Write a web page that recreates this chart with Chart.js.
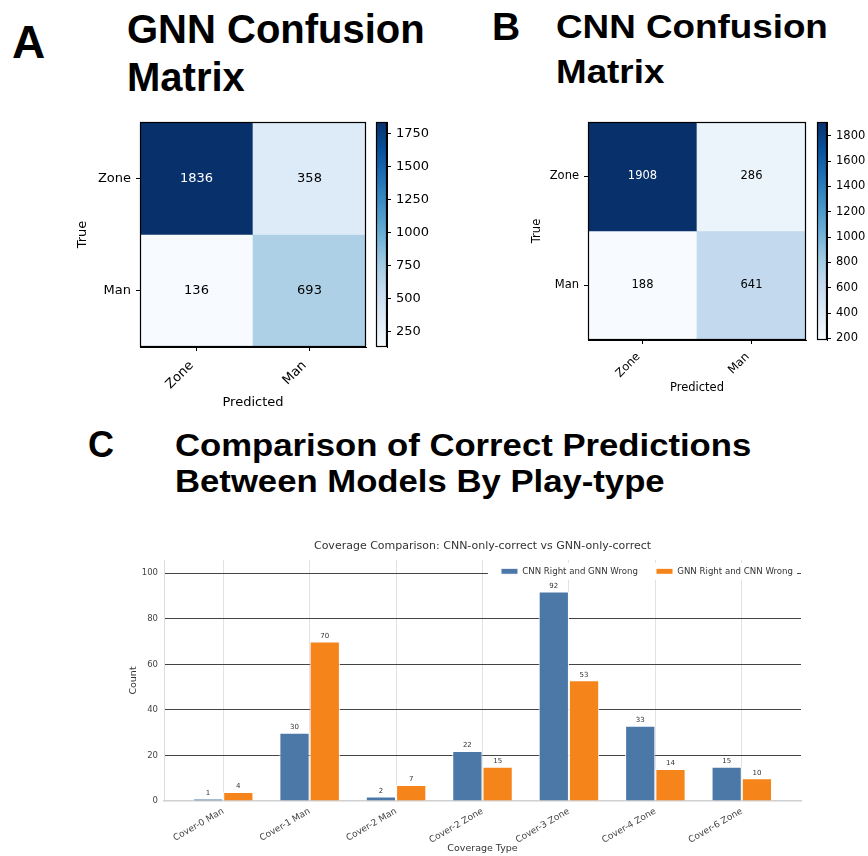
<!DOCTYPE html>
<html>
<head>
<meta charset="utf-8">
<script src="https://cdn.jsdelivr.net/npm/chart.js@4.4.1/dist/chart.umd.min.js"></script>
<style>
  html, body { margin: 0; padding: 0; background: #fff; }
  body { width: 868px; height: 856px; position: relative; overflow: hidden; }
  canvas { position: absolute; }
  .big { position: absolute; font-family: 'Liberation Sans', Arial, sans-serif; font-weight: bold; color: #000; white-space: nowrap; }
</style>
</head>
<body>
<div class="big" style="left:12px;top:19px;font-size:46px;line-height:46px;">A</div>
<div class="big" style="left:127px;top:5px;font-size:40px;line-height:48px;">GNN Confusion<br>Matrix</div>
<div class="big" style="left:492px;top:7px;font-size:39px;line-height:39px;">B</div>
<div class="big" style="left:556px;top:5px;font-size:36.8px;line-height:50px;transform-origin:0 0;transform:scaleY(0.9);">CNN Confusion<br>Matrix</div>
<div class="big" style="left:88px;top:427px;font-size:36px;line-height:36px;">C</div>
<div class="big" style="left:175px;top:427px;font-size:34.7px;line-height:38.7px;transform-origin:0 0;transform:scaleY(0.93);">Comparison of Correct Predictions<br>Between Models By Play-type</div>

<canvas id="gnnMatrix" width="340" height="320" style="left:40px;top:100px;"></canvas>
<canvas id="gnnBar" width="80" height="270" style="left:370px;top:100px;"></canvas>
<canvas id="cnnMatrix" width="340" height="310" style="left:480px;top:100px;"></canvas>
<canvas id="cnnBar" width="58" height="270" style="left:810px;top:100px;"></canvas>
<canvas id="coverage" width="778" height="331" style="left:90px;top:525px;"></canvas>

<script>
// ---- data ----
const matrixLabels = ['Zone', 'Man'];
const gnnMatrix = [[1836, 358], [136, 693]];
const cnnMatrix = [[1908, 286], [188, 641]];
const gnnColorTicks = [250, 500, 750, 1000, 1250, 1500, 1750];
const cnnColorTicks = [200, 400, 600, 800, 1000, 1200, 1400, 1600, 1800];

const coverageTypes = ['Cover-0 Man', 'Cover-1 Man', 'Cover-2 Man', 'Cover-2 Zone', 'Cover-3 Zone', 'Cover-4 Zone', 'Cover-6 Zone'];
const cnnRightGnnWrong = [1, 30, 2, 22, 92, 33, 15];
const gnnRightCnnWrong = [4, 70, 7, 15, 53, 14, 10];
const countTicks = [0, 20, 40, 60, 80, 100];

// ---- shared helpers ----
Chart.defaults.font.family = "'DejaVu Sans', sans-serif";
Chart.defaults.animation = false;
Chart.defaults.responsive = false;
Chart.defaults.devicePixelRatio = 1;
Chart.defaults.plugins.tooltip.enabled = false;

const BLUES = ['#f7fbff', '#deebf7', '#c6dbef', '#9ecae1', '#6baed6', '#4292c6', '#2171b5', '#08519c', '#08306b'];
function hexToRgb(h) { return [1, 3, 5].map(k => parseInt(h.slice(k, k + 2), 16)); }
function blues(t) {
  t = Math.max(0, Math.min(1, t));
  const p = t * (BLUES.length - 1);
  const k = Math.min(Math.floor(p), BLUES.length - 2);
  const f = p - k;
  const a = hexToRgb(BLUES[k]), b = hexToRgb(BLUES[k + 1]);
  const c = a.map((v, n) => Math.round(v + (b[n] - v) * f));
  return `rgb(${c[0]},${c[1]},${c[2]})`;
}
const plainNumber = v => String(v);

const framePlugin = {
  id: 'frame',
  afterDraw(chart) {
    const a = chart.chartArea, ctx = chart.ctx;
    ctx.save();
    ctx.strokeStyle = '#000';
    ctx.lineWidth = 1.2;
    ctx.strokeRect(Math.round(a.left) + 0.5, Math.round(a.top) + 0.5, Math.round(a.right - a.left) - 1, Math.round(a.bottom - a.top) - 1);
    ctx.restore();
  }
};

function confusionMatrix(id, matrix, cfg) {
  const flat = matrix.flat();
  const vmin = Math.min(...flat), vmax = Math.max(...flat);
  const thresh = (vmin + vmax) / 2;
  const font = { size: cfg.fontSize };
  const cellText = {
    id: 'cellText',
    afterDatasetsDraw(chart) {
      const ctx = chart.ctx;
      ctx.save();
      ctx.font = `${cfg.fontSize}px 'DejaVu Sans'`;
      ctx.textAlign = 'center';
      ctx.textBaseline = 'middle';
      matrix.forEach((row, i) => {
        chart.getDatasetMeta(i).data.forEach((bar, j) => {
          const v = row[j];
          ctx.fillStyle = v > thresh ? '#fff' : '#000';
          ctx.fillText(String(v), bar.x, (bar.y + bar.base) / 2);
        });
      });
      ctx.restore();
    }
  };
  new Chart(document.getElementById(id), {
    type: 'bar',
    data: {
      labels: matrixLabels,
      datasets: matrix.map((row, i) => ({
        label: matrixLabels[i],
        data: row.map(() => 1),
        backgroundColor: row.map(v => blues((v - vmin) / (vmax - vmin))),
        borderWidth: 0,
        barPercentage: 1,
        categoryPercentage: 1
      }))
    },
    options: {
      layout: { padding: { left: 0, top: 22, right: 14, bottom: 0 } },
      plugins: { legend: { display: false } },
      scales: {
        x: {
          stacked: true,
          offset: true,
          grid: { offset: false, drawOnChartArea: false, color: '#000', tickLength: 4 },
          border: { color: '#000' },
          ticks: { font, color: '#000', minRotation: 45, maxRotation: 45, padding: cfg.xTickPad, labelOffset: cfg.xTickShift },
          title: { display: true, text: 'Predicted', font, color: '#000', padding: { top: 0, bottom: cfg.xTitlePad } },
          afterFit: s => { s.height = cfg.xAxisHeight; }
        },
        y: {
          stacked: true,
          reverse: true,
          min: 0,
          max: matrixLabels.length,
          afterBuildTicks: s => { s.ticks = matrixLabels.map((_, i) => ({ value: i + 0.5 })); },
          grid: { drawOnChartArea: false, color: '#000', tickLength: 4 },
          border: { color: '#000' },
          ticks: { font, color: '#000', padding: 5, callback: (v, i) => matrixLabels[i] },
          title: { display: true, text: 'True', font, color: '#000', padding: { top: cfg.yTitlePad, bottom: 0 } },
          afterFit: s => { s.width = cfg.yAxisWidth; }
        }
      }
    },
    plugins: [cellText, framePlugin]
  });

  new Chart(document.getElementById(cfg.barId), {
    type: 'bar',
    data: {
      labels: [''],
      datasets: [{
        data: [[vmin, vmax]],
        barPercentage: 1,
        categoryPercentage: 1,
        borderWidth: 0,
        backgroundColor: c => {
          const ch = c.chart;
          if (!ch.chartArea) return BLUES[0];
          const y = ch.scales.y;
          const g = ch.ctx.createLinearGradient(0, y.getPixelForValue(vmin), 0, y.getPixelForValue(vmax));
          for (let k = 0; k <= 40; k++) g.addColorStop(k / 40, blues(k / 40));
          return g;
        }
      }]
    },
    options: {
      layout: { padding: cfg.barPadding },
      plugins: { legend: { display: false } },
      scales: {
        x: { display: false },
        y: {
          position: 'right',
          min: vmin,
          max: vmax,
          afterBuildTicks: s => { s.ticks = cfg.ticks.map(v => ({ value: v })); },
          grid: { drawOnChartArea: false, color: '#000', tickLength: 4 },
          border: { color: '#000' },
          ticks: { font, color: '#000', padding: 5, callback: plainNumber },
          afterFit: s => { s.width = cfg.barAxisWidth; }
        }
      }
    },
    plugins: [framePlugin]
  });
}

confusionMatrix('gnnMatrix', gnnMatrix, {
  fontSize: 13, xAxisHeight: 73, yAxisWidth: 100, xTitlePad: 10, yTitlePad: 35, xTickPad: 7, xTickShift: -5,
  barId: 'gnnBar', ticks: gnnColorTicks, barPadding: { left: 6, top: 22, right: 0, bottom: 23 }, barAxisWidth: 63
});
confusionMatrix('cnnMatrix', cnnMatrix, {
  fontSize: 11.5, xAxisHeight: 70, yAxisWidth: 108, xTitlePad: 15, yTitlePad: 50, xTickPad: 6, xTickShift: -4,
  barId: 'cnnBar', ticks: cnnColorTicks, barPadding: { left: 7, top: 22, right: 0, bottom: 30 }, barAxisWidth: 41
});

// ---- coverage comparison bars ----
// legend sits inside the plot, one row, upper right, on a white patch
const LEG_DX = 10, LEG_DY = 11;
const valueLabels = {
  id: 'valueLabels',
  afterDatasetsDraw(chart) {
    const ctx = chart.ctx;
    ctx.save();
    ctx.font = "7px 'DejaVu Sans'";
    ctx.fillStyle = '#333';
    ctx.textAlign = 'center';
    ctx.textBaseline = 'bottom';
    chart.data.datasets.forEach((ds, i) => {
      chart.getDatasetMeta(i).data.forEach((bar, j) => {
        ctx.fillText(String(ds.data[j].y), bar.x, bar.y - 2);
      });
    });
    ctx.restore();
  }
};
const legendBox = {
  id: 'legendBox',
  beforeLayout(chart) {
    if (chart.legend) chart.legend.isHorizontal = () => true;
  },
  afterLayout(chart) {
    const lg = chart.legend, a = chart.chartArea;
    lg.left = a.left + LEG_DX; lg.right = a.right + LEG_DX;
    lg.top = a.top - LEG_DY; lg.bottom = lg.top + lg.height;
  },
  beforeDatasetsDraw(chart) {
    const lg = chart.legend, hb = lg.legendHitBoxes;
    if (!hb || !hb.length) return;
    const first = hb[0], last = hb[hb.length - 1];
    const ctx = chart.ctx;
    ctx.save();
    ctx.fillStyle = '#fff';
    const x0 = first.left - 13, x1 = last.left + last.width + 4;
    const y0 = first.top - 4, y1 = first.top + first.height + 4;
    ctx.fillRect(x0, y0, x1 - x0, y1 - y0);
    ctx.restore();
    lg.draw();
  }
};

const yTop = Math.max(...cnnRightGnnWrong, ...gnnRightCnnWrong) * 1.15;

new Chart(document.getElementById('coverage'), {
  type: 'bar',
  data: {
    datasets: [
      {
        label: 'CNN Right and GNN Wrong',
        data: cnnRightGnnWrong.map((v, i) => ({ x: i, y: v })),
        backgroundColor: '#4C78A8',
        borderColor: '#fff',
        borderWidth: 1
      },
      {
        label: 'GNN Right and CNN Wrong',
        data: gnnRightCnnWrong.map((v, i) => ({ x: i, y: v })),
        backgroundColor: '#F5851A',
        borderColor: '#fff',
        borderWidth: 1
      }
    ]
  },
  options: {
    layout: { padding: { left: 0, top: 0, right: 67, bottom: 0 } },
    datasets: { bar: { categoryPercentage: 0.7, barPercentage: 1 } },
    plugins: {
      title: {
        display: true,
        text: 'Coverage Comparison: CNN-only-correct vs GNN-only-correct',
        font: { size: 11, weight: 'normal' },
        color: '#333',
        fullSize: false,
        padding: { top: 14.4, bottom: 7.4 }
      },
      legend: {
        position: 'chartArea',
        align: 'end',
        labels: { boxWidth: 17, boxHeight: 6, padding: 18, font: { size: 8.6 }, color: '#333' }
      }
    },
    scales: {
      x: {
        type: 'linear',
        min: -0.685,
        max: coverageTypes.length - 1 + 0.685,
        offset: false,
        afterBuildTicks: s => { s.ticks = coverageTypes.map((_, i) => ({ value: i })); },
        grid: { offset: false, color: '#e2e2e2', lineWidth: 1, drawTicks: false },
        border: { color: '#d0d0d0', width: 1.5 },
        ticks: { font: { size: 9 }, color: '#444', minRotation: 30, maxRotation: 30, autoSkip: false, padding: 5,
                 callback: v => coverageTypes[v] },
        title: { display: true, text: 'Coverage Type', font: { size: 9.5 }, color: '#333', padding: { top: 0, bottom: 1.3 } },
        afterFit: s => { s.height = 55; }
      },
      y: {
        min: 0,
        max: yTop,
        afterBuildTicks: s => { s.ticks = countTicks.map(v => ({ value: v })); },
        grid: { color: c => (c.tick && c.tick.value === 0 ? 'rgba(0,0,0,0)' : '#444'), lineWidth: 1, drawTicks: false },
        border: { color: '#dcdcdc', width: 1 },
        ticks: { font: { size: 8.5 }, color: '#444', padding: 6, callback: plainNumber },
        title: { display: true, text: 'Count', font: { size: 9.5 }, color: '#333', padding: { top: 38, bottom: 0 } },
        afterFit: s => { s.width = 74; }
      }
    }
  },
  plugins: [valueLabels, legendBox]
});
</script>
</body>
</html>
